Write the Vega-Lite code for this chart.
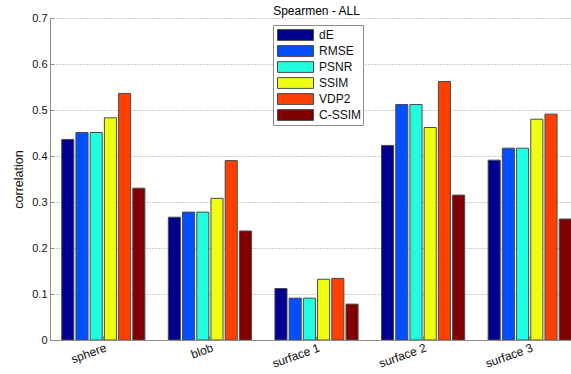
{
  "$schema": "https://vega.github.io/schema/vega-lite/v6.json",
  "width": 521,
  "height": 322,
  "autosize": {"type": "none"},
  "padding": {"left": 50, "top": 18, "right": 0, "bottom": 34},
  "background": "white",
  "config": {
    "font": "Liberation Sans",
    "view": {"stroke": null}
  },
  "title": {
    "text": "Spearmen - ALL",
    "fontSize": 12,
    "fontWeight": "normal",
    "color": "#000",
    "anchor": "middle",
    "frame": "group",
    "dx": 6,
    "offset": -15,
    "baseline": "alphabetic"
  },
  "data": {
    "values": [
      {"shape": "sphere", "metric": "dE", "value": 0.436},
      {"shape": "sphere", "metric": "RMSE", "value": 0.451},
      {"shape": "sphere", "metric": "PSNR", "value": 0.451},
      {"shape": "sphere", "metric": "SSIM", "value": 0.483},
      {"shape": "sphere", "metric": "VDP2", "value": 0.536},
      {"shape": "sphere", "metric": "C-SSIM", "value": 0.330},
      {"shape": "blob", "metric": "dE", "value": 0.267},
      {"shape": "blob", "metric": "RMSE", "value": 0.278},
      {"shape": "blob", "metric": "PSNR", "value": 0.278},
      {"shape": "blob", "metric": "SSIM", "value": 0.308},
      {"shape": "blob", "metric": "VDP2", "value": 0.390},
      {"shape": "blob", "metric": "C-SSIM", "value": 0.237},
      {"shape": "surface 1", "metric": "dE", "value": 0.112},
      {"shape": "surface 1", "metric": "RMSE", "value": 0.091},
      {"shape": "surface 1", "metric": "PSNR", "value": 0.091},
      {"shape": "surface 1", "metric": "SSIM", "value": 0.132},
      {"shape": "surface 1", "metric": "VDP2", "value": 0.134},
      {"shape": "surface 1", "metric": "C-SSIM", "value": 0.078},
      {"shape": "surface 2", "metric": "dE", "value": 0.423},
      {"shape": "surface 2", "metric": "RMSE", "value": 0.512},
      {"shape": "surface 2", "metric": "PSNR", "value": 0.512},
      {"shape": "surface 2", "metric": "SSIM", "value": 0.462},
      {"shape": "surface 2", "metric": "VDP2", "value": 0.562},
      {"shape": "surface 2", "metric": "C-SSIM", "value": 0.315},
      {"shape": "surface 3", "metric": "dE", "value": 0.391},
      {"shape": "surface 3", "metric": "RMSE", "value": 0.417},
      {"shape": "surface 3", "metric": "PSNR", "value": 0.417},
      {"shape": "surface 3", "metric": "SSIM", "value": 0.480},
      {"shape": "surface 3", "metric": "VDP2", "value": 0.491},
      {"shape": "surface 3", "metric": "C-SSIM", "value": 0.263}
    ]
  },
  "mark": {"type": "bar", "stroke": "#4a4a4a", "strokeWidth": 1, "clip": true},
  "encoding": {
    "x": {
      "field": "shape",
      "type": "nominal",
      "sort": ["sphere", "blob", "surface 1", "surface 2", "surface 3"],
      "scale": {"range": [0, 533], "paddingInner": 0.22, "paddingOuter": 0.11},
      "axis": {
        "title": null,
        "labelAngle": -20,
        "labelAlign": "right",
        "labelBaseline": "top",
        "labelPadding": 6,
        "labelOffset": 1,
        "labelFontSize": 12,
        "labelColor": "#111",
        "domainColor": "#8c8c8c",
        "domainWidth": 1,
        "tickColor": "#8c8c8c",
        "tickSize": -4,
        "grid": false
      }
    },
    "xOffset": {
      "field": "metric",
      "type": "nominal",
      "sort": ["dE", "RMSE", "PSNR", "SSIM", "VDP2", "C-SSIM"],
      "scale": {"paddingInner": 0.15, "paddingOuter": 0}
    },
    "y": {
      "field": "value",
      "type": "quantitative",
      "scale": {"domain": [0, 0.7], "nice": false},
      "axis": {
        "title": "correlation",
        "titleFontSize": 12.5,
        "titleFontWeight": "normal",
        "titleColor": "#111",
        "titlePadding": 6,
        "values": [0, 0.1, 0.2, 0.3, 0.4, 0.5, 0.6, 0.7],
        "labelExpr": "datum.value == 0 ? '0' : format(datum.value, '.1f')",
        "labelFontSize": 11,
        "labelColor": "#111",
        "labelPadding": 7,
        "domainColor": "#8c8c8c",
        "tickColor": "#8c8c8c",
        "tickSize": -4,
        "grid": true,
        "gridColor": "#9a9a9a",
        "gridDash": [1, 2],
        "gridWidth": 1
      }
    },
    "color": {
      "field": "metric",
      "type": "nominal",
      "sort": ["dE", "RMSE", "PSNR", "SSIM", "VDP2", "C-SSIM"],
      "scale": {
        "domain": ["dE", "RMSE", "PSNR", "SSIM", "VDP2", "C-SSIM"],
        "range": ["#00008f", "#0050ff", "#20ffdf", "#efff10", "#ff4000", "#800000"]
      },
      "legend": {
        "title": null,
        "orient": "none",
        "legendX": 223,
        "legendY": 7,
        "padding": 2,
        "symbolOffset": 2,
        "fillColor": "white",
        "strokeColor": "#8c8c8c",
        "symbolType": "M-1,-0.3L1,-0.3L1,0.3L-1,0.3Z",
        "symbolSize": 1296,
        "symbolStrokeColor": "#4a4a4a",
        "symbolStrokeWidth": 1,
        "symbolOpacity": 1,
        "clipHeight": 16,
        "rowPadding": 0,
        "labelFontSize": 12,
        "labelColor": "#111",
        "labelOffset": 5
      }
    }
  }
}
